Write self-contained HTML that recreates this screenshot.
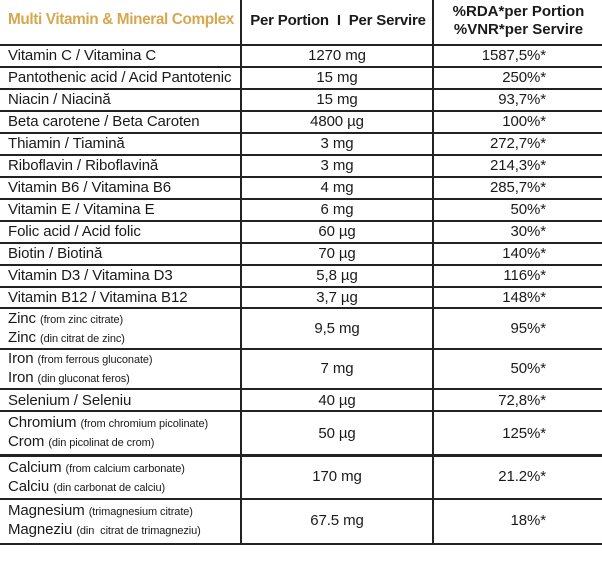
<!DOCTYPE html>
<html><head><meta charset="utf-8"><style>
body{margin:0;width:602px;height:580px;background:#fff;position:relative;overflow:hidden;font-family:"Liberation Sans",sans-serif;color:#1a1a1a}
.h{position:absolute;left:0;width:602px;height:2px;background:#222}
.v{position:absolute;width:2px;background:#222}
.t{position:absolute;font-size:15px;line-height:18px;white-space:nowrap;letter-spacing:-0.1px}
.c2{left:241px;width:192px;text-align:center}
.c3{left:435px;width:111px;text-align:right}
.s{font-size:11px}
.hd{position:absolute;font-weight:bold;font-size:15px;white-space:nowrap}
</style></head><body>
<div class="hd" style="left:8px;top:11px;color:#d6a84e;font-size:16px;letter-spacing:-0.4px;transform:scaleX(0.96);transform-origin:left">Multi Vitamin &amp; Mineral Complex</div>
<div class="hd" style="left:243px;width:190px;text-align:center;top:12px;letter-spacing:-0.2px">Per Portion&nbsp; I&nbsp; Per Servire</div>
<div class="hd" style="left:435px;width:167px;text-align:center;top:3px;line-height:18px;">%RDA*per Portion<br>%VNR*per Servire</div>
<div class="v" style="left:240px;top:0;height:545px"></div>
<div class="v" style="left:432px;top:0;height:545px"></div>
<div class="h" style="top:44px"></div><div class="h" style="top:66px"></div><div class="h" style="top:88px"></div><div class="h" style="top:110px"></div><div class="h" style="top:132px"></div><div class="h" style="top:154px"></div><div class="h" style="top:176px"></div><div class="h" style="top:198px"></div><div class="h" style="top:220px"></div><div class="h" style="top:242px"></div><div class="h" style="top:264px"></div><div class="h" style="top:286px"></div><div class="h" style="top:307px"></div><div class="h" style="top:348px"></div><div class="h" style="top:388px"></div><div class="h" style="top:410px"></div><div class="h" style="top:454px;height:3px"></div><div class="h" style="top:498px"></div><div class="h" style="top:543px"></div>

<div class="t" style="left:8px;top:47px">Vitamin C / Vitamina C</div><div class="t c2" style="top:47px">1270 mg</div><div class="t c3" style="top:47px">1587,5%*</div>
<div class="t" style="left:8px;top:69px">Pantothenic acid / Acid Pantotenic</div><div class="t c2" style="top:69px">15 mg</div><div class="t c3" style="top:69px">250%*</div>
<div class="t" style="left:8px;top:91px">Niacin / Niacină</div><div class="t c2" style="top:91px">15 mg</div><div class="t c3" style="top:91px">93,7%*</div>
<div class="t" style="left:8px;top:113px">Beta carotene / Beta Caroten</div><div class="t c2" style="top:113px">4800 µg</div><div class="t c3" style="top:113px">100%*</div>
<div class="t" style="left:8px;top:135px">Thiamin / Tiamină</div><div class="t c2" style="top:135px">3 mg</div><div class="t c3" style="top:135px">272,7%*</div>
<div class="t" style="left:8px;top:157px">Riboflavin / Riboflavină</div><div class="t c2" style="top:157px">3 mg</div><div class="t c3" style="top:157px">214,3%*</div>
<div class="t" style="left:8px;top:179px">Vitamin B6 / Vitamina B6</div><div class="t c2" style="top:179px">4 mg</div><div class="t c3" style="top:179px">285,7%*</div>
<div class="t" style="left:8px;top:201px">Vitamin E / Vitamina E</div><div class="t c2" style="top:201px">6 mg</div><div class="t c3" style="top:201px">50%*</div>
<div class="t" style="left:8px;top:223px">Folic acid / Acid folic</div><div class="t c2" style="top:223px">60 µg</div><div class="t c3" style="top:223px">30%*</div>
<div class="t" style="left:8px;top:245px">Biotin / Biotină</div><div class="t c2" style="top:245px">70 µg</div><div class="t c3" style="top:245px">140%*</div>
<div class="t" style="left:8px;top:267px">Vitamin D3 / Vitamina D3</div><div class="t c2" style="top:267px">5,8 µg</div><div class="t c3" style="top:267px">116%*</div>
<div class="t" style="left:8px;top:289px">Vitamin B12 / Vitamina B12</div><div class="t c2" style="top:289px">3,7 µg</div><div class="t c3" style="top:289px">148%*</div>

<div class="t" style="left:8px;top:310px">Zinc <span class="s">(from zinc citrate)</span><br>Zinc <span class="s">(din citrat de zinc)</span></div><div class="t c2" style="top:320px">9,5 mg</div><div class="t c3" style="top:320px">95%*</div>
<div class="t" style="left:8px;top:350px">Iron <span class="s">(from ferrous gluconate)</span><br>Iron <span class="s">(din gluconat feros)</span></div><div class="t c2" style="top:360px">7 mg</div><div class="t c3" style="top:360px">50%*</div>
<div class="t" style="left:8px;top:392px">Selenium / Seleniu</div><div class="t c2" style="top:392px">40 µg</div><div class="t c3" style="top:392px">72,8%*</div>
<div class="t" style="left:8px;top:414px">Chromium <span class="s">(from chromium picolinate)</span><br>Crom <span class="s">(din picolinat de crom)</span></div><div class="t c2" style="top:425px">50 µg</div><div class="t c3" style="top:425px">125%*</div>
<div class="t" style="left:8px;top:459px">Calcium <span class="s">(from calcium carbonate)</span><br>Calciu <span class="s">(din carbonat de calciu)</span></div><div class="t c2" style="top:468px">170 mg</div><div class="t c3" style="top:468px">21.2%*</div>
<div class="t" style="left:8px;top:502px">Magnesium <span class="s">(trimagnesium citrate)</span><br>Magneziu <span class="s">(din&nbsp; citrat de trimagneziu)</span></div><div class="t c2" style="top:512px">67.5 mg</div><div class="t c3" style="top:512px">18%*</div>
</body></html>
